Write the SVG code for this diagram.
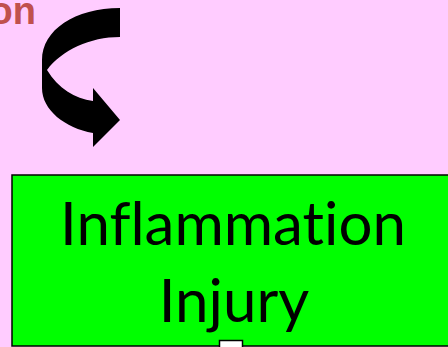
<svg xmlns="http://www.w3.org/2000/svg" width="448" height="347" viewBox="0 0 448 347">
<style>
.bg{fill:#FFCCFF}
.lbl{font-family:Lato,"Open Sans","Liberation Sans",sans-serif;font-size:60px;fill:#000;text-anchor:middle;font-variant-ligatures:none;font-feature-settings:"liga" 0}
.red{font-family:"Liberation Sans",Arial,sans-serif;font-weight:bold;font-size:38px;fill:#C0504D;text-anchor:end}
</style>
<rect class="bg" x="0" y="0" width="448" height="347"/>
<g id="title-fragment">
<text class="red" x="36" y="24">on</text>
</g>
<g id="connectors">
<path d="M120,8 L120,37 C90,37 62,50 47,70 C58,88 75,99 93,101 L93,88 L120,120 L93,147 L93,133 C65,128 42,110 42,88 L42,60 C42,30 75,8 120,8 Z" fill="#000"/>
</g>
<g id="node-inflammation">
<rect x="12" y="175" width="450" height="171" fill="#00FF00" stroke="#000" stroke-width="1.5"/>
<text class="lbl" x="233" y="245">Inflammation</text>
<text class="lbl" x="234" y="322">Injury</text>
</g>
<g id="node-below">
<rect x="219.5" y="340.5" width="23" height="12" fill="#FFFFFF" stroke="#000" stroke-width="1.5"/>
</g>
</svg>
